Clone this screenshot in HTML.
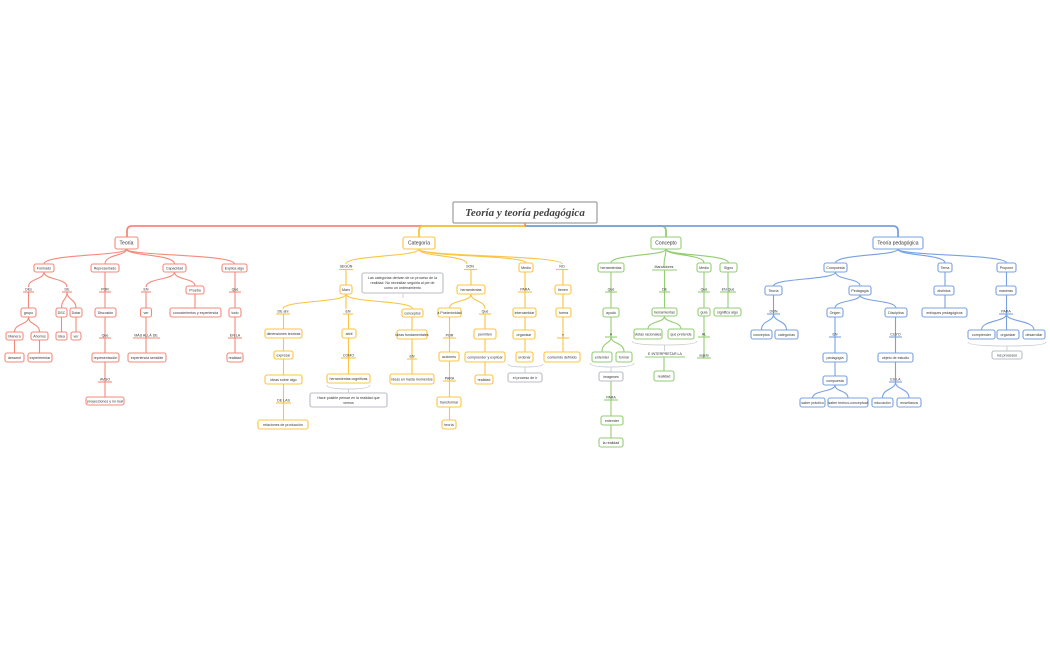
<!DOCTYPE html>
<html><head><meta charset="utf-8"><style>
html,body{margin:0;padding:0;background:#fff;}
svg{display:block}
rect{fill:#fff;stroke-width:1.1}
text{font-family:"Liberation Sans",sans-serif;font-size:3.6px;fill:#333;text-anchor:middle}
path,line{fill:none;stroke-width:1.1}
.r rect,.r path,.r line{stroke:#f4897b}
.o rect,.o path,.o line{stroke:#fbc441}
.g rect,.g path,.g line{stroke:#93cd74}
.b rect,.b path,.b line{stroke:#78a1e2}
.gr rect{stroke:#b8bcc4}
.br{stroke:#c4c7cc !important;stroke-width:0.8 !important}
</style></head><body>
<svg width="1050" height="650" viewBox="0 0 1050 650">
<!-- title -->
<rect x="453" y="202" width="144" height="21" rx="1" style="stroke:#8a8a8a;stroke-width:1"/>
<text x="525" y="216" style="font-family:'Liberation Serif',serif;font-size:11px;font-style:italic;font-weight:bold;fill:#444">Teoría y teoría pedagógica</text>
<path d="M525,223 V226 H132 Q127,226 127,231 V237" style="stroke:#f4897b;stroke-width:1.8;fill:none"/>
<path d="M525,226 H424 Q419,226 419,231 V237" style="stroke:#fbc441;stroke-width:1.8;fill:none"/>
<path d="M525,226 H661 Q666,226 666,231 V237" style="stroke:#93cd74;stroke-width:1.8;fill:none"/>
<path d="M525,226 H893 Q898,226 898,231 V237" style="stroke:#78a1e2;stroke-width:1.8;fill:none"/>

<!-- RED -->
<g class="r">
<path d="M126.5,249 C126.5,256 44,254 44,264 M126.5,249 C126.5,256 105,254 105,264 M126.5,249 C126.5,256 174.5,254 174.5,264 M126.5,249 C126.5,256 234.5,254 234.5,264"/>
<rect x="115" y="237" width="23" height="12" rx="2"/><text x="126.5" y="244.5" style="font-size:5px">Teoría</text>
<rect x="34" y="264" width="20" height="8" rx="2"/><text x="44" y="269.3">Formado</text>
<rect x="91" y="264" width="28" height="8" rx="2"/><text x="105" y="269.3">Representado</text>
<rect x="163" y="264" width="23" height="8" rx="2"/><text x="174.5" y="269.3">Capacidad</text>
<rect x="222" y="264" width="25" height="8" rx="2"/><text x="234.5" y="269.3">Explica algo</text>
<!-- Formado -->
<path d="M44,272 C44,280 28.5,278 28.5,287 M44,272 C44,280 67,278 67,287"/>
<text x="28.5" y="290.5">DEs</text><line x1="23" x2="34" y1="292" y2="292"/><line x1="28.5" x2="28.5" y1="292" y2="308"/>
<text x="67" y="290.5">DE</text><line x1="62" x2="72" y1="292" y2="292"/>
<rect x="21" y="308" width="15" height="9" rx="2"/><text x="28.5" y="313.8">grupo</text>
<path d="M28.5,317 C28.5,325 14.5,323 14.5,332 M28.5,317 C28.5,325 39.5,323 39.5,332"/>
<path d="M67,292 C67,300 61.5,299 61.5,308 M67,292 C67,300 76,299 76,308"/>
<rect x="56" y="308" width="11" height="9" rx="2"/><text x="61.5" y="313.8">DSC</text>
<rect x="70" y="308" width="12" height="9" rx="2"/><text x="76" y="313.8">Dotar</text>
<line x1="61.5" x2="61.5" y1="317" y2="332"/><line x1="76" x2="76" y1="317" y2="332"/>
<rect x="56" y="332" width="11" height="8" rx="2"/><text x="61.5" y="337.3">idea</text>
<rect x="71" y="332" width="10" height="8" rx="2"/><text x="76" y="337.3">ver</text>
<rect x="6" y="332" width="17" height="8" rx="2"/><text x="14.5" y="337.3">Manera</text>
<rect x="31" y="332" width="17" height="8" rx="2"/><text x="39.5" y="337.3">Ahorros</text>
<line x1="14.5" x2="14.5" y1="340" y2="353"/><line x1="39.5" x2="39.5" y1="340" y2="353"/>
<rect x="5" y="353" width="19" height="9" rx="2"/><text x="14.5" y="358.8">desarrol</text>
<rect x="28" y="353" width="24" height="9" rx="2"/><text x="40" y="358.8">experimentar</text>
<!-- Representado -->
<line x1="105" x2="105" y1="272" y2="308"/><text x="105" y="290.5">POR</text><line x1="99" x2="111" y1="292" y2="292"/>
<rect x="95" y="308" width="21" height="9" rx="2"/><text x="105.5" y="313.8">Discusión</text>
<line x1="105" x2="105" y1="317" y2="353"/><text x="105" y="336.5">Qué</text><line x1="99" x2="111" y1="338" y2="338"/>
<rect x="92" y="353" width="27" height="9" rx="2"/><text x="105.5" y="358.8">representación</text>
<line x1="105" x2="105" y1="362" y2="397"/><text x="105" y="380.5">AVGO</text><line x1="98" x2="112" y1="382" y2="382"/>
<rect x="86" y="397" width="38" height="8" rx="2"/><text x="105" y="402.3">proyecciones y no real</text>
<!-- Capacidad -->
<path d="M174.5,272 C174.5,280 146,278 146,287 M174.5,272 C174.5,280 195,278 195,286"/>
<text x="146" y="290.5">EN</text><line x1="141" x2="151" y1="292" y2="292"/><line x1="146" x2="146" y1="292" y2="353"/>
<rect x="140.5" y="308" width="11" height="9" rx="2"/><text x="146" y="313.8">ver</text>
<text x="146" y="336.5">MÁS ALLÁ DE</text><line x1="133" x2="160" y1="338" y2="338"/>
<rect x="128" y="353" width="38" height="9" rx="2"/><text x="147" y="358.8">experiencia sensible</text>
<rect x="186" y="286" width="18" height="8" rx="2"/><text x="195" y="291.3">Prueba</text>
<line x1="195" x2="195" y1="294" y2="308"/>
<rect x="170" y="308" width="51" height="9" rx="2"/><text x="195.5" y="313.8">conocimientos y experiencia</text>
<!-- Explica -->
<line x1="235" x2="235" y1="272" y2="353"/><text x="235" y="290.5">Qué</text><line x1="229" x2="241" y1="292" y2="292"/>
<rect x="229" y="308" width="12" height="9" rx="2"/><text x="235" y="313.8">todo</text>
<text x="235" y="336.5">EN LA</text><line x1="228" x2="242" y1="338" y2="338"/>
<rect x="227" y="353" width="16" height="9" rx="2"/><text x="235" y="358.8">realidad</text>
</g>

<!-- ORANGE -->
<g class="o">
<path d="M419,249 C419,257 346,255 346,264 M419,249 C419,257 467,255 467,264 M419,249 C419,257 526,255 526,263 M419,249 C419,257 562,255 562,264"/>
<rect x="403" y="237" width="32" height="12" rx="2"/><text x="419" y="244.5" style="font-size:5px">Categoría</text>
<text x="346" y="267.5">SEGÚN</text><line x1="339" x2="353" y1="269.5" y2="269.5"/><line x1="346" x2="346" y1="269.5" y2="285"/>
<rect x="340" y="285" width="12" height="9" rx="2"/><text x="346" y="290.8">Marx</text>
<path d="M346,294 C346,303 283,300 283,309 M346,294 V309 M346,294 C346,303 412.5,300 412.5,309"/>
<text x="283" y="312.5">DE ahí</text><line x1="276" x2="290" y1="314" y2="314"/>
<text x="348" y="312.5">EN</text><line x1="343" x2="353" y1="314" y2="314"/>
<rect x="402" y="309" width="21" height="8" rx="2"/><text x="412.5" y="314.3">conceptos</text>
<line x1="283.5" x2="283.5" y1="314" y2="420"/>
<rect x="265" y="329" width="37" height="9" rx="2"/><text x="283.5" y="334.8">dimensiones teóricas</text>
<rect x="274" y="351" width="19" height="8" rx="2"/><text x="283.5" y="356.3">expresar</text>
<rect x="265" y="375" width="37" height="9" rx="2"/><text x="283.5" y="380.8">ideas sobre algo</text>
<text x="283.5" y="401.5">DE LAS</text><line x1="276" x2="291" y1="403" y2="403"/>
<rect x="258" y="420" width="50" height="9" rx="2"/><text x="283" y="425.8">relaciones de producción</text>
<line x1="348.5" x2="348.5" y1="314" y2="374"/>
<rect x="342" y="329" width="14" height="9" rx="2"/><text x="349" y="334.8">abril</text>
<text x="348.5" y="356.5">COMO</text><line x1="341" x2="356" y1="358" y2="358"/>
<rect x="327" y="374" width="43" height="9" rx="2"/><text x="348.5" y="379.8">herramientas cognitivas</text>
<line x1="412" x2="412" y1="317" y2="374"/>
<rect x="397" y="330" width="30" height="9" rx="2"/><text x="412" y="335.8">ideas fundamentales</text>
<text x="412" y="357.5">EN</text><line x1="407" x2="417" y1="359" y2="359"/>
<rect x="390" y="374" width="44" height="10" rx="2"/><text x="412" y="380.3">ideas en hasta momentos</text>
<!-- SON -->
<text x="470" y="267.5">SON</text><line x1="464" x2="477" y1="269.5" y2="269.5"/><line x1="471" x2="471" y1="269.5" y2="285"/>
<rect x="457" y="285" width="28" height="9" rx="2"/><text x="471" y="290.8">herramientas</text>
<path d="M471,294 C471,302 449.5,300 449.5,308 M471,294 C471,302 485,300 485,309"/>
<rect x="438" y="308" width="23" height="9" rx="2"/><text x="449.5" y="313.8">a Posterioridad</text>
<text x="485" y="312.5">Qué</text><line x1="479" x2="491" y1="314" y2="314"/>
<line x1="449.5" x2="449.5" y1="317" y2="420"/>
<text x="449.5" y="336.5">POR</text><line x1="443" x2="456" y1="338" y2="338"/>
<rect x="439" y="352" width="20" height="9" rx="2"/><text x="449" y="357.8">acciones</text>
<text x="449.5" y="379.5">PARA</text><line x1="443" x2="456" y1="381" y2="381"/>
<rect x="437" y="397" width="24" height="10" rx="2"/><text x="449" y="403.3">transformar</text>
<rect x="442" y="420" width="14" height="9" rx="2"/><text x="449" y="425.8">teoría</text>
<line x1="485" x2="485" y1="314" y2="375"/>
<rect x="474" y="329" width="22" height="10" rx="2"/><text x="485" y="335.3">permiten</text>
<rect x="465" y="352" width="40" height="10" rx="2"/><text x="485" y="358.3">comprender y explicar</text>
<rect x="475" y="375" width="18" height="9" rx="2"/><text x="484" y="380.8">realidad</text>
<!-- Medio -->
<rect x="519" y="263" width="14" height="9" rx="2"/><text x="526" y="268.8">Medio</text>
<line x1="525" x2="525" y1="272" y2="352"/><text x="525" y="290.5">PARA</text><line x1="518" x2="532" y1="292" y2="292"/>
<rect x="513" y="308" width="23" height="9" rx="2"/><text x="524.5" y="313.8">intercambiar</text>
<rect x="513" y="330" width="22" height="9" rx="2"/><text x="524" y="335.8">organizar</text>
<rect x="516" y="352" width="17" height="10" rx="2"/><text x="524.5" y="358.3">ordenar</text>
<!-- NO -->
<text x="562" y="267.5">NO</text><line x1="556" x2="568" y1="269.5" y2="269.5"/><line x1="563" x2="563" y1="269.5" y2="352"/>
<rect x="555" y="285" width="16" height="9" rx="2"/><text x="563" y="290.8">tienen</text>
<rect x="556" y="308" width="15" height="9" rx="2"/><text x="563.5" y="313.8">forma</text>
<text x="563" y="336.5">Y</text><line x1="557" x2="569" y1="338" y2="338"/>
<rect x="544" y="352" width="36" height="10" rx="2"/><text x="562" y="358.3">contenido definido</text>
</g>
<!-- orange braces & notes -->
<path class="br" d="M327,385 Q327,389 348,389 Q370,389 370,385 M348.5,389 V393" style="fill:none"/>
<path class="br" d="M508,364 Q508,367 525,367 Q543,367 543,364 M525,367 V373" style="fill:none"/>
<path class="br" d="M403,294 V298" style="fill:none"/>
<g class="gr">
<rect x="362" y="273" width="81" height="20" rx="2"/>
<text x="402.5" y="279">Las categorías derivan de un proceso de la</text>
<text x="402.5" y="284">realidad. No necesitan seguirla al pie de</text>
<text x="402.5" y="289">como un ordenamiento</text>
<rect x="310" y="393" width="77" height="14" rx="2"/>
<text x="348.5" y="399">Hace posible pensar en la realidad que</text>
<text x="348.5" y="404">vemos</text>
<rect x="508" y="373" width="34" height="9" rx="2"/><text x="525" y="378.8">el proceso de ir</text>
</g>

<!-- GREEN -->
<g class="g">
<path d="M666,249 C666,256 611,254 611,263 M666,249 C666,256 664,256 664,266 M666,249 C666,256 704,254 704,263 M666,249 C666,256 728.5,254 728.5,263"/>
<rect x="651" y="237" width="30" height="12" rx="2"/><text x="666" y="244.5" style="font-size:5px">Concepto</text>
<rect x="598" y="263" width="26" height="9" rx="2"/><text x="611" y="268.8">herramientas</text>
<text x="664" y="268">Marcadores</text><line x1="652" x2="677" y1="270" y2="270"/>
<rect x="697" y="263" width="14" height="9" rx="2"/><text x="704" y="268.8">Medio</text>
<rect x="720" y="263" width="17" height="9" rx="2"/><text x="728.5" y="268.8">Signo</text>
<line x1="611" x2="611" y1="272" y2="337"/><text x="611" y="290.5">Qué</text><line x1="605" x2="617" y1="292" y2="292"/>
<rect x="603" y="308" width="16" height="9" rx="2"/><text x="611" y="313.8">ayudó</text>
<text x="611" y="335.5">A</text><line x1="605" x2="617" y1="337" y2="337"/>
<path d="M611,337 C611,344 602,342 602,352 M611,337 C611,344 624,342 624,352"/>
<rect x="592" y="352" width="20" height="10" rx="2"/><text x="602" y="358.3">entender</text>
<rect x="616" y="352" width="16" height="10" rx="2"/><text x="624" y="358.3">formar</text>
<line x1="611" x2="611" y1="381" y2="438"/>
<text x="611" y="398.5">PARA</text><line x1="604" x2="618" y1="400" y2="400"/>
<rect x="601" y="416" width="22" height="9" rx="2"/><text x="612" y="421.8">entender</text>
<rect x="599" y="438" width="24" height="9" rx="2"/><text x="611" y="443.8">la realidad</text>
<line x1="664.5" x2="664.5" y1="270" y2="308"/><text x="664.5" y="290.5">DE</text><line x1="659" x2="670" y1="292" y2="292"/>
<rect x="652" y="308" width="25" height="8" rx="2"/><text x="664.5" y="313.3">herramientas</text>
<path d="M664.5,316 C664.5,323 648,321 648,329 M664.5,316 C664.5,323 681,321 681,329"/>
<rect x="634" y="329" width="28" height="10" rx="2"/><text x="648" y="335.3">vistas racionales</text>
<rect x="668" y="329" width="26" height="10" rx="2"/><text x="681" y="335.3">qué pretende</text>
<text x="665" y="355">E INTERPRETAR LA</text><line x1="645" x2="685" y1="357" y2="357"/>
<line x1="664" x2="664" y1="357" y2="371"/>
<rect x="654" y="371" width="20" height="10" rx="2"/><text x="664" y="377.3">realidad</text>
<line x1="704" x2="704" y1="272" y2="358"/><text x="704" y="290.5">Qué</text><line x1="698" x2="710" y1="292" y2="292"/>
<rect x="698" y="308" width="12" height="8" rx="2"/><text x="704" y="313.3">guía</text>
<text x="704" y="335.5">AL</text><line x1="698" x2="710" y1="337" y2="337"/>
<text x="704" y="356.5">sujeto</text><line x1="697" x2="711" y1="358" y2="358"/>
<line x1="728" x2="728" y1="272" y2="308"/><text x="728" y="290.5">EN Qué</text><line x1="720" x2="736" y1="292" y2="292"/>
<rect x="714" y="308" width="27" height="8" rx="2"/><text x="727.5" y="313.3">significa algo</text>
</g>
<path class="br" d="M590,363 Q590,367 611,367 Q634,367 634,363 M611,367 V372" style="fill:none"/>
<path class="br" d="M632,341 Q632,345 664,345 Q697,345 697,341 M664.5,345 V351" style="fill:none"/>
<g class="gr"><rect x="599" y="372" width="24" height="9" rx="2"/><text x="611" y="377.8">imagenes</text></g>

<!-- BLUE -->
<g class="b">
<path d="M898,249 C898,256 835.5,254 835.5,263 M898,249 C898,256 945,254 945,263 M898,249 C898,256 1006.5,254 1006.5,263"/>
<rect x="873" y="237" width="50" height="12" rx="2"/><text x="898" y="244.5" style="font-size:5px">Teoría pedagógica</text>
<rect x="824" y="263" width="23" height="9" rx="2"/><text x="835.5" y="268.8">Compuesta</text>
<rect x="938" y="263" width="14" height="9" rx="2"/><text x="945" y="268.8">Tema</text>
<rect x="997" y="263" width="19" height="9" rx="2"/><text x="1006.5" y="268.8">Propone</text>
<path d="M835.5,272 C835.5,280 773.5,278 773.5,286 M835.5,272 C835.5,280 860,278 860,286"/>
<rect x="765" y="286" width="17" height="9" rx="2"/><text x="773.5" y="291.8">Teoría</text>
<rect x="849" y="286" width="22" height="9" rx="2"/><text x="860" y="291.8">Pedagogía</text>
<line x1="773.5" x2="773.5" y1="295" y2="314"/><text x="773.5" y="312.5">DON</text><line x1="767" x2="780" y1="314" y2="314"/>
<path d="M773.5,314 C773.5,322 761.5,320 761.5,330 M773.5,314 C773.5,322 786.5,320 786.5,330"/>
<rect x="751" y="330" width="21" height="9" rx="2"/><text x="761.5" y="335.8">conceptos</text>
<rect x="775" y="330" width="23" height="9" rx="2"/><text x="786.5" y="335.8">categorías</text>
<path d="M860,295 C860,302 835,300 835,308 M860,295 C860,302 896,300 896,308"/>
<rect x="827" y="308" width="16" height="9" rx="2"/><text x="835" y="313.8">Origen</text>
<rect x="885" y="308" width="22" height="9" rx="2"/><text x="896" y="313.8">Disciplina</text>
<line x1="835" x2="835" y1="317" y2="376"/><text x="835" y="335.5">EN</text><line x1="829" x2="841" y1="337" y2="337"/>
<rect x="823" y="353" width="24" height="9" rx="2"/><text x="835" y="358.8">pedagogía</text>
<rect x="823" y="376" width="24" height="9" rx="2"/><text x="835" y="381.8">compuesta</text>
<path d="M835,385 C835,392 812.5,390 812.5,398 M835,385 C835,392 848,390 848,398"/>
<rect x="800" y="398" width="25" height="9" rx="2"/><text x="812.5" y="403.8">saber práctico</text>
<rect x="828" y="398" width="40" height="9" rx="2"/><text x="848" y="403.8">saber teórico-conceptual</text>
<line x1="895.5" x2="895.5" y1="317" y2="382"/><text x="895.5" y="335.5">CUYO</text><line x1="889" x2="902" y1="337" y2="337"/>
<rect x="878" y="353" width="35" height="9" rx="2"/><text x="895.5" y="358.8">objeto de estudio</text>
<text x="895.5" y="380.5">ES LA</text><line x1="889" x2="902" y1="382" y2="382"/>
<path d="M895.5,382 C895.5,390 882.5,388 882.5,398 M895.5,382 C895.5,390 909,388 909,398"/>
<rect x="872" y="398" width="21" height="9" rx="2"/><text x="882.5" y="403.8">educación</text>
<rect x="897" y="398" width="24" height="9" rx="2"/><text x="909" y="403.8">enseñanza</text>
<line x1="945" x2="945" y1="272" y2="308"/>
<rect x="934" y="286" width="20" height="9" rx="2"/><text x="944" y="291.8">distintos</text>
<rect x="922" y="308" width="45" height="9" rx="2"/><text x="944.5" y="313.8">enfoques pedagógicos</text>
<line x1="1006.5" x2="1006.5" y1="272" y2="314"/>
<rect x="996" y="286" width="20" height="9" rx="2"/><text x="1006" y="291.8">maneras</text>
<text x="1006" y="312.5">PARA</text><line x1="999" x2="1013" y1="314" y2="314"/>
<path d="M1006.5,314 C1006.5,322 981.5,320 981.5,330 M1006.5,314 V330 M1006.5,314 C1006.5,322 1034,320 1034,330"/>
<rect x="968" y="330" width="27" height="9" rx="2"/><text x="981.5" y="335.8">comprender</text>
<rect x="997" y="330" width="22" height="9" rx="2"/><text x="1008" y="335.8">organizar</text>
<rect x="1023" y="330" width="22" height="9" rx="2"/><text x="1034" y="335.8">desarrollar</text>
</g>
<path class="br" d="M968,342 Q968,346 1007,346 Q1046,346 1046,342 M1007,346 V351" style="fill:none"/>
<g class="gr"><rect x="992" y="351" width="30" height="8" rx="2"/><text x="1007" y="356.3">los procesos</text></g>
</svg>
</body></html>
